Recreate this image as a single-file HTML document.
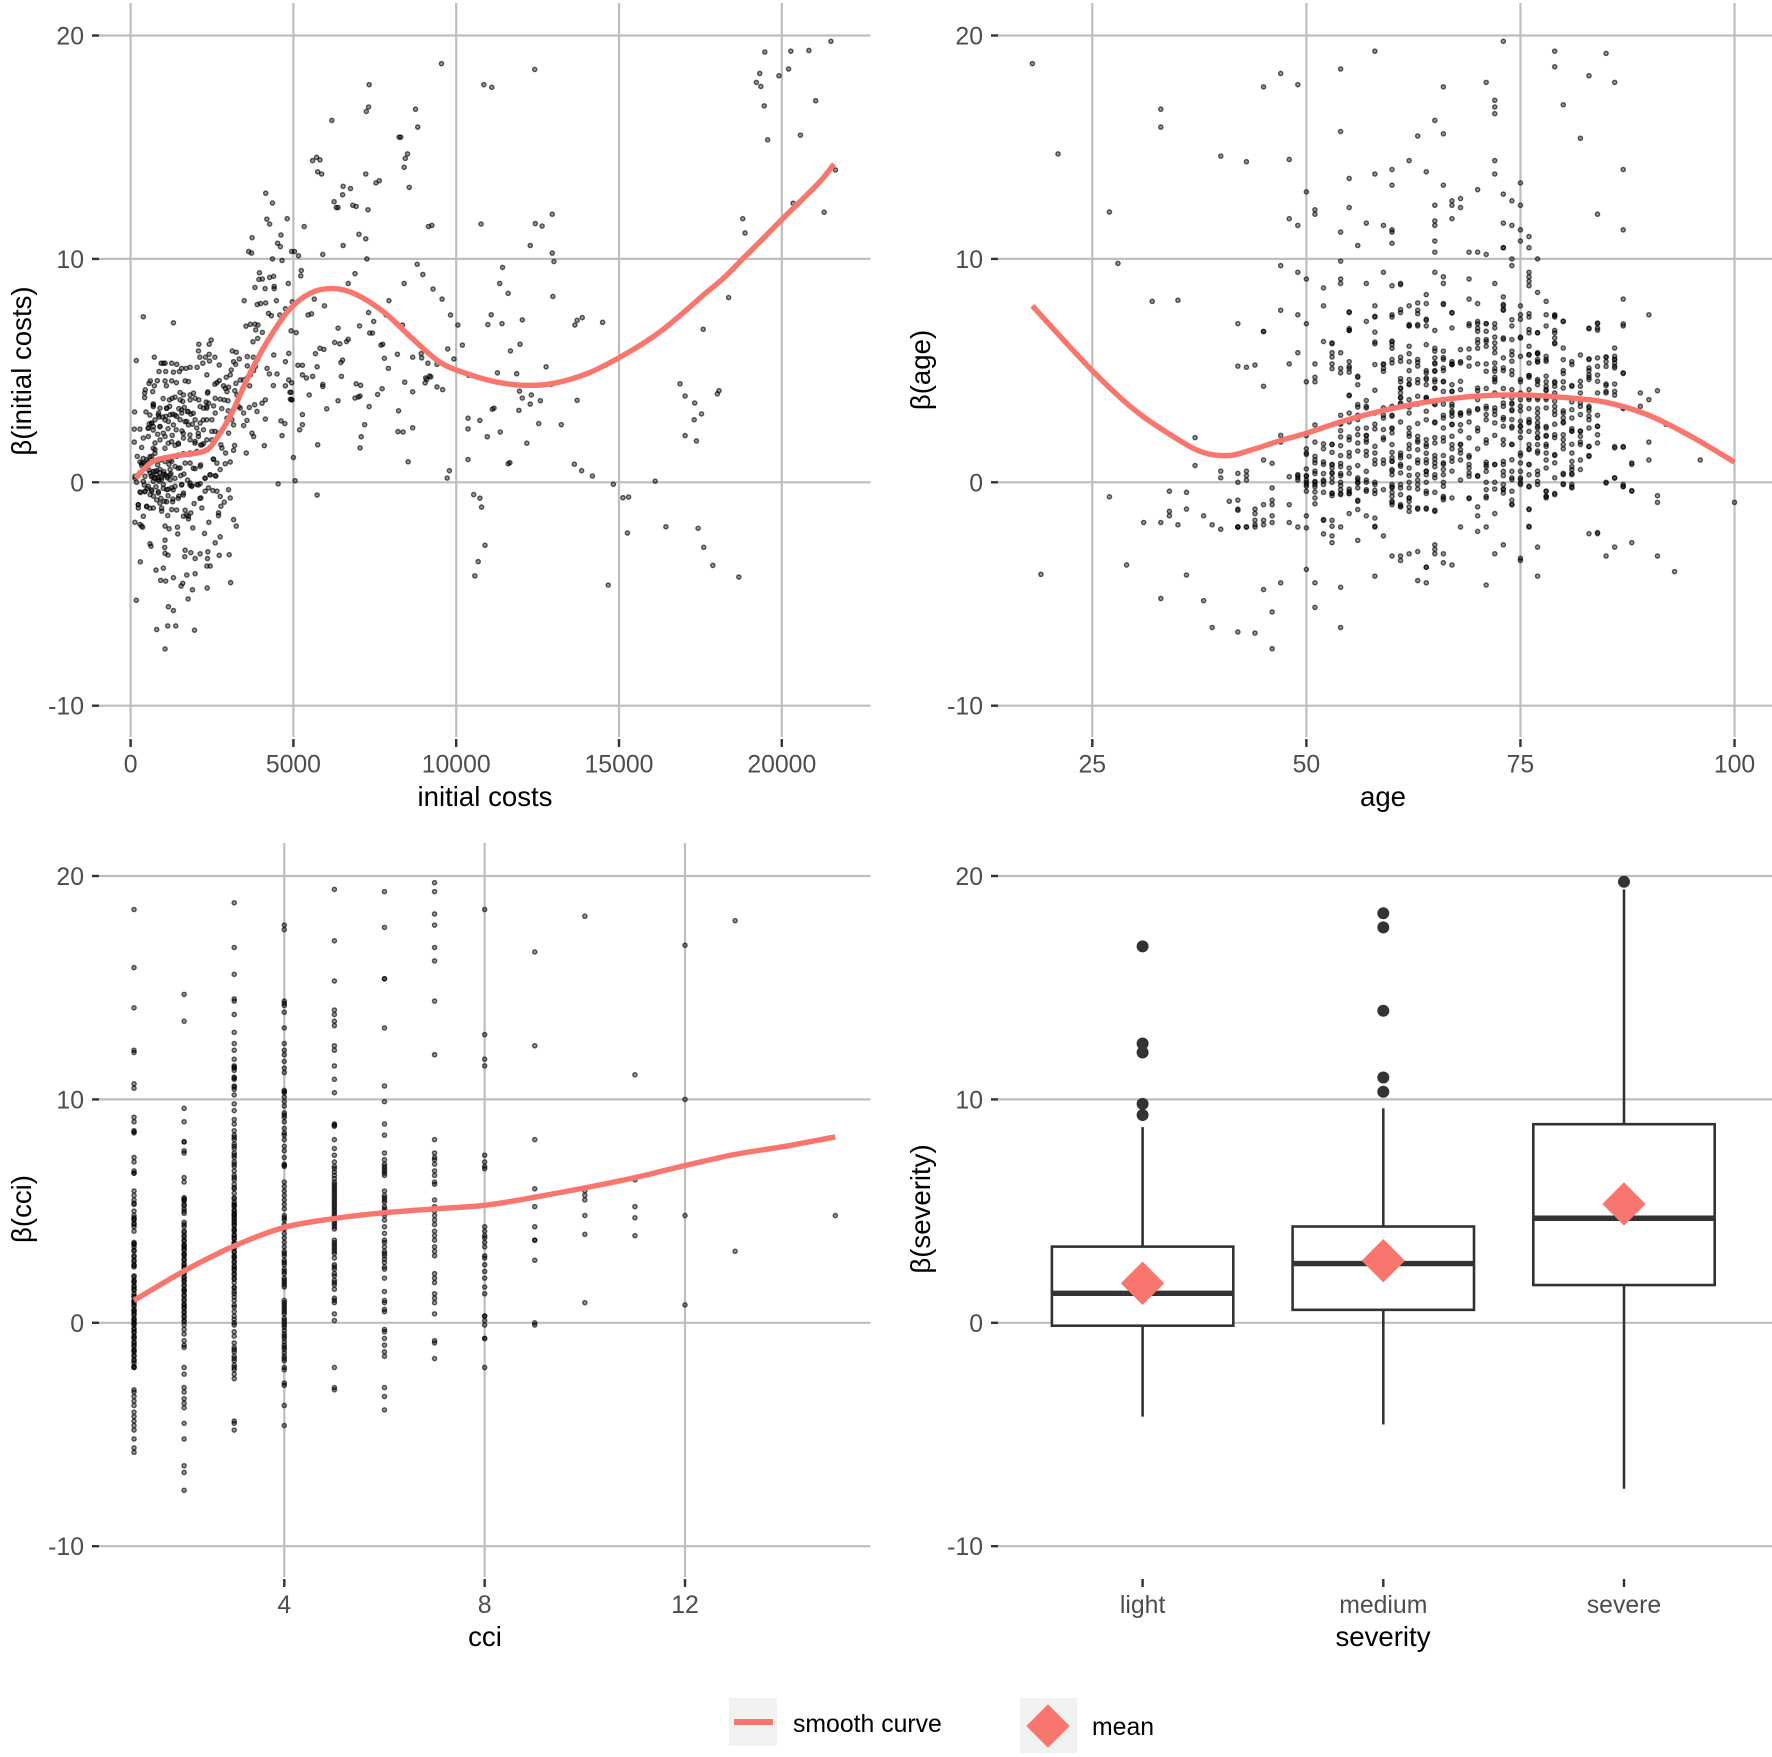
<!DOCTYPE html>
<html lang="en">
<head>
<meta charset="utf-8">
<title>Partial effects chart</title>
<style>
html,body{margin:0;padding:0;background:#fff;}
svg{display:block;font-family:"Liberation Sans",Arial,sans-serif;}
.tick-label{font-size:24.8px;fill:#4d4d4d;}
.axis-title{font-size:27.6px;fill:#000;}
.legend-text{font-size:24.8px;fill:#000;}
</style>
</head>
<body>
<svg id="figure" width="1772" height="1757" viewBox="0 0 1772 1757" xmlns="http://www.w3.org/2000/svg">
<rect width="1772" height="1757" fill="#fff"/>
<g id="panel-costs"></g>
<g id="panel-age"></g>
<g id="panel-cci"></g>
<g id="panel-severity"></g>
<text class="axis-title" x="485" y="806" text-anchor="middle">initial costs</text>
<text class="axis-title" x="1383" y="806" text-anchor="middle">age</text>
<text class="axis-title" x="485" y="1646" text-anchor="middle">cci</text>
<text class="axis-title" x="1383" y="1646" text-anchor="middle">severity</text>
<text class="axis-title" transform="translate(31,371) rotate(-90)" text-anchor="middle">β(initial costs)</text>
<text class="axis-title" transform="translate(930,370) rotate(-90)" text-anchor="middle">β(age)</text>
<text class="axis-title" transform="translate(31,1209) rotate(-90)" text-anchor="middle">β(cci)</text>
<text class="axis-title" transform="translate(930,1209) rotate(-90)" text-anchor="middle">β(severity)</text>
<g>
<rect x="729" y="1698" width="48" height="48" fill="#f2f2f2"/>
<rect x="734" y="1719" width="39" height="6" fill="#f8766d"/>
<text class="legend-text" x="793" y="1732">smooth curve</text>
<rect x="1020" y="1698" width="57" height="55" fill="#f2f2f2"/>
<polygon points="1048,1704.3 1069.7,1726 1048,1747.7 1026.3,1726" fill="#f8766d"/>
<text class="legend-text" x="1092" y="1735">mean</text>
</g>
</svg>
<script>
/* ---------- shared axis ticks ---------- */
const yTicks = [-10, 0, 10, 20];
const costTicks = [0, 5000, 10000, 15000, 20000];
const ageTicks = [25, 50, 75, 100];
const cciTicks = [4, 8, 12];
const severityCategories = ['light', 'medium', 'severe'];

/* ---------- initial costs panel: [initial costs, beta] ---------- */
const costPoints = [
[390,7.41],[1315,7.14],[175,5.45],[729,5.6],[1006,5.33],[935,5.33],[1058,5.33],[1263,5.33],[1417,5.28],[873,4.96],[1078,4.96],[1315,4.93],[1499,4.96],[1571,5.1],[1705,5.1],[1828,5.15],[2044,5.15],[2095,6.18],[2085,5.88],[2413,6.18],[2475,6.37],[2126,5.6],[2300,5.6],[2413,5.73],[2424,5.43],[2588,5.6],[2218,5.33],[2722,5.25],[3122,5.88],[3245,5.82],[3163,5.4],[3225,5.28],[3338,5.52],[3584,5.21],[3543,6.99],[3677,7.07],[3820,7.08],[3913,7.04],[3841,6.82],[4046,6.71],[3759,6.29],[3903,6.44],[3584,5.63],[3769,5.6],[3903,5.51],[3831,5.18],[3779,5],[3677,4.81],[3574,4.66],[3091,5.03],[2937,4.7],[3060,4.81],[2722,4.55],[2588,4.39],[2650,4.46],[2342,4.81],[1674,4.54],[1777,4.51],[606,4.54],[565,4.43],[822,4.55],[1058,4.54],[1263,4.54],[1407,4.46],[729,4.32],[1099,4.32],[452,4.14],[431,3.99],[431,3.79],[678,4.06],[1520,4.02],[1623,3.91],[1828,3.91],[1931,3.99],[2372,4.05],[2362,3.99],[2855,4.32],[3009,4.26],[2906,4.21],[2958,4.06],[3235,4.43],[3369,4.58],[3471,4.58],[3451,4.21],[3266,3.91],[3348,3.91],[3656,4.32],[4385,4.33],[4755,4.32],[4858,4.58],[4930,4.03],[4909,3.72],[4960,3.69],[4190,5.1],[4262,4.85],[4396,5.7],[4498,4.85],[4755,5.4],[4858,5.77],
[123,3.15],[472,3.15],[698,3.51],[698,3.39],[904,3.32],[1109,3.32],[1273,3.76],[1366,3.81],[1191,3.69],[1520,3.69],[1602,3.62],[1828,3.69],[1982,3.76],[2095,3.69],[2321,3.59],[2393,3.54],[2342,3.32],[2598,3.76],[2752,3.72],[2876,3.69],[2989,3.65],[2547,3.42],[2239,3.32],[2136,3.39],[1746,3.17],[1571,3.1],[1417,2.95],[1212,3.02],[986,2.92],[883,2.92],[750,2.8],[647,2.65],[575,2.62],[698,2.5],[544,2.43],[904,2.5],[1161,2.72],[1315,2.57],[1520,2.8],[1725,2.72],[1982,2.8],[2136,2.65],[2342,2.8],[2496,2.8],[1777,2.57],[2033,2.43],[2239,2.35],[2496,2.28],[2701,2.2],[2958,2.87],[3112,2.8],[3163,2.57],[3317,3.39],[3369,3.32],[3471,3.1],[3574,2.77],[3471,2.54],[3646,3.35],[3810,3.47],[3882,3.17],[4036,3.54],[4139,3.69],[4139,2.83],[3728,2.2],[3779,2.05],[4108,1.64],[3553,1.31],[3194,1.65],[3163,1.43],[2917,1.31],[3009,2.2],[2773,1.68],[2804,1.53],[2598,2.28],[2496,1.9],[2342,1.9],[2239,1.73],[2188,1.68],[2085,2.05],[1982,1.83],[1828,1.9],[1623,1.98],[1469,1.71],[1366,1.65],[1006,2.2],[1058,2.05],[904,1.9],[750,1.76],[544,2.05],[390,1.98],[288,2.38],[113,2.38],[113,1.8],[339,1.56],[205,1.16],[288,0.91],[390,0.86],[493,1.01],[647,1.16],[750,1.46],[904,1.01],[1109,1.09],[1263,0.94],[1417,1.16],[1623,1.28],[1828,1.31],[2033,1.38],[2362,1.46],[2547,1.04],[2650,0.86],[2906,0.83],[3060,0.91],[2752,0.57],[2598,0.3],[2444,0.34],[2290,0.19],[2136,0.71],[1982,0.61],[1828,0.86],[1674,0.86],[1520,0.64],[1366,0.71],[1212,0.57],[1058,0.34],[904,0.57],[750,0.49],[596,0.42],[442,0.27],[288,0.42],[134,0.27],
[185,0],[390,0.04],[544,-0.18],[698,0.04],[852,0.12],[1006,-0.1],[1212,0.12],[1366,-0.18],[1571,-0.1],[1828,-0.03],[2033,-0.1],[2136,-0.06],[2393,-0.25],[2526,-0.37],[2650,-0.4],[3009,-0.33],[288,-0.43],[442,-0.4],[647,-0.4],[852,-0.48],[1109,-0.33],[1263,-0.25],[1623,-0.48],[1879,-0.18],[2157,-0.7],[2290,-0.4],[2752,-0.63],[3060,-0.7],[2876,-0.89],[2773,-1.07],[2701,-1.37],[2701,-1.49],[2188,-1.15],[1951,-0.95],[1849,-1.37],[1777,-1.52],[1777,-1.64],[1623,-1.52],[1674,-1.25],[1263,-1.22],[1140,-1.49],[955,-1.29],[698,-1.15],[493,-1.07],[390,-1.52],[236,-1.15],[236,-1],[134,-1.79],[288,-1.89],[339,-1.96],[370,-2.01],[3163,-1.67],[3245,-1.96],[2752,-2.44],[2598,-2.71],[2403,-1.79],[2270,-2.29],[1910,-2.04],[1448,-2.31],[1438,-2.01],[1181,-2.08],[1058,-1.96],[596,-2.75],[626,-2.86],[1058,-2.59],[1048,-2.92],[1058,-3.18],[1150,-3.26],[1674,-3.04],[1664,-3.33],[1849,-3.15],[1982,-3.41],[2136,-3.2],[2372,-3.11],[2362,-3.41],[2342,-3.75],[2444,-3.75],[2722,-3.27],[3030,-3.24],[3071,-4.49],[2352,-4.73],[1900,-4.81],[1766,-5.22],[1982,-4.09],[1725,-4.15],[1602,-4.52],[1551,-4.64],[1315,-4.27],[1078,-4.42],[924,-4.39],[781,-3.93],[1006,-3.84],[298,-3.56],[175,-5.28],[1161,-5.57],[1315,-5.74],[801,-6.59],[1140,-6.43],[1386,-6.43],[1962,-6.62],[1058,-7.46],
[480,0.7],[560,0.55],[640,0.3],[720,0.2],[800,0.35],[870,0.05],[950,0.22],[1020,0.48],[1130,0.2],[1240,0.38],[420,-0.12],[510,-0.28],[600,-0.55],[700,-0.62],[780,-0.2],[930,-0.72],[1040,-0.85],[1150,-0.6],[1300,-0.75],[1480,-0.62],[340,0.75],[620,0.88],[830,0.78],[1180,0.8],[1540,0.3],[1750,0.1],[1200,3.4],[1290,3.05],[1480,3.3],[1650,3.35],[1080,2.95],[1400,2.35],[1580,2.3],[1850,3.05],[1900,2.6],[1280,2.1],[1150,2.4],[830,2.15],[860,3.1],[1000,3.75],[2600,3.1],[2800,3.3],[3000,3.2],[3200,4.1],
[133,0.18],[236,0.33],[338,0.85],[440,0.78],[543,0.93],[389,1.07],[594,1.15],[748,1.3],[696,1.52],[901,1],[1055,0.93],[1208,1],[696,0.48],[799,0.52],[901,0.43],[1004,0.37],[1106,0.28],[850,0.22],[748,0.18],[645,0.25],[952,0.13],[1208,0.33],[1362,0.18],[1464,0.63],[1638,0.37],[1925,0.63],[2150,0.78],[2540,1.03],[2621,0.28],[2284,0.18],[2437,0.33],[307,-0.46],[440,-0.42],[645,-0.34],[850,-0.42],[1004,-0.27],[1157,-0.31],[1311,-0.34],[1567,-0.12],[1874,-0.16],[2079,-0.12],[799,-0.79],[1106,-0.87],[1290,-0.87],[1464,-0.72],[1618,-0.57],[901,-0.94],[594,-1.16],[492,-1.09],[952,-1.16],[236,-1.01],[1413,-1.24],[1720,-1.46],[2130,-0.72],[1823,-0.12],[543,2.42],[696,2.34],[901,2.49],[645,2.64],[1055,2.79],[1464,1.75],[1260,1.82],[1823,2.12],[1669,2.72],[2079,2.19],[2232,2.79],[1925,3.09],[1362,3.01],[1567,3.24],[850,3.01],[594,3.01],[1106,3.31],[696,3.46],[1772,3.16],[2335,3.39],[1976,1.75],[2150,1.67],[1055,1.52],[1464,1.22],[1157,1.75],[1618,2.19],
[4150,12.94],[4357,12.5],[4184,11.78],[4270,11.56],[3732,10.95],[3628,10.33],[3715,10.26],[4357,10],[3958,9.38],[4045,9.1],[3941,9.08],[4270,9.17],[4392,9.22],[3819,8.72],[4132,8.67],[4410,8.77],[4410,8.67],[3489,8.13],[3889,7.96],[3993,8],[4149,8.03],[4479,8.13],[4236,7.56],[4323,7.46],[4583,7.49],[4757,7.77],[4965,8.08],
[9548,18.74],[6180,16.2],[7326,17.8],[7309,16.8],[7240,16.6],[8246,15.45],[8298,15.45],[8750,16.7],[8819,15.9],[8506,14.7],[8437,14.5],[8402,14.1],[8558,13.2],[5590,14.4],[5712,14.55],[5816,14.43],[5746,13.9],[5868,13.8],[7222,13.8],[7534,13.4],[7638,13.5],[6527,13.25],[6753,13.15],[6510,12.87],[6250,12.56],[6319,12.3],[6371,12.3],[6823,12.4],[6927,12.35],[7291,12.2],[9149,11.45],[9253,11.5],[7013,11.1],[7222,10.9],[6527,10.6],[5902,10.2],[7257,10],[5330,11.45],[4809,11.8],[4618,11.07],[4514,10.7],[4600,10.55],[4948,10.33],[5034,10.33],[5156,10.14],[4652,9.93],[5243,9.48],[5226,9.24],[8802,9.76],[8975,9.3],[6892,9.34],[6684,8.9],[8402,8.9],[4843,8.9],[9288,8.65],[9566,8.2],[7934,8.13],[7847,7.49],[9826,7.49],[5954,7.9],[5642,8.2],[7309,7.6],[5451,7.49],[5555,7.54],[7465,7.2],[8350,7.04],[10051,7.04],[10190,6.14],[9739,5.97],[7343,6.68],[7430,6.68],[7031,7],[6371,6.9],[6267,6.26],[6423,6.2],[6684,6.4],[6632,6.3],[5816,6],[5937,5.95],[5677,5.76],[7690,6.14],[7795,5.55],[8194,5.73],[8663,5.6],[7916,5.1],[8923,5.76],[8940,5.57],[9131,5.33],[9409,5.28],[9930,5.52],[9183,4.76],[9097,4.6],[9045,4.45],[9409,4.27],[9583,4.15],[10382,4.79],[11267,4.9],[11857,4.86],[12760,5.17],[11666,5.88],[11961,6.18],[12030,7.27],[10972,7.06],[11076,7.5],[11406,7.1],[11597,8.46],[11336,8.9],[11423,9.62],[10763,11.56],[12274,10.6],[12430,11.58],[12638,11.47],[12950,12],[12950,10.26],[13002,9.88],[12968,8.32],[10850,17.8],[11093,17.68],[12412,18.48],[13645,7.04],[13714,7.25],[13871,7.37],[14496,7.16],[18367,8.27],[18800,11.8],[18870,11.16],[17586,6.85],[20346,12.49],[21301,12.09],[21648,13.98],[19218,17.9],[19322,18.3],[19357,17.72],[19478,19.26],[19461,16.85],[19565,15.33],[19912,18.2],[20207,18.5],[20277,19.3],[20832,19.33],[21509,19.74],[20572,15.54],[21041,17.08],[16874,4.41],[17030,3.86],[17325,3.55],[17308,2.8],[17534,3.06],[17030,2.09],[17378,1.85],[18071,4.1],[18020,3.96],[13714,3.67],[13228,2.58],[12534,2.63],[12916,4.38],[12586,3.65],[12308,3.91],[12274,3.5],[12030,3.77],[11944,4.08],[11927,3.22],[12169,1.75],[11353,2.25],[10954,2.04],[10364,2.39],[10364,2.87],[10728,2.77],[11110,3.27],[11162,3.32],[10364,1.02],[11597,0.83],[11649,0.88],[13628,0.81],[13853,0.52],[14183,0.28],[9791,0.52],[9722,0.19],[14826,-0.09],[16110,0.05],[15121,-0.69],[15294,-0.66],[15260,-2.27],[16440,-1.99],[17429,-2.06],[17603,-2.91],[17881,-3.72],[18680,-4.24],[14669,-4.6],[10538,-0.55],[10728,-0.71],[10781,-1.11],[10885,-2.82],[10676,-3.55],[10572,-4.19],
[8229,3.2],[8211,2.27],[8367,2.25],[8663,2.44],[8524,0.92],[7083,2.04],[7048,1.54],[7187,2.58],[7326,3.39],[6927,4.41],[7066,4.34],[6996,3.82],[6892,3.77],[7048,3.86],[7586,3.93],[7725,4.19],[6371,3.65],[6024,3.29],[5746,1.68],[5000,1.11],[5052,0.07],[5729,-0.57],[4531,-0.07],[5902,4.29],[5902,4.38],[5486,3.91],[5277,3.03],[5277,2.58],[5191,2.35],[4652,2.09],[4739,2.63],[4618,2.75],[4895,4.03],[4930,3.7],[4948,4.45],[5277,4.81],[5399,4.67],[5590,4.74],[5139,5.24],[5277,5.24],[5729,5.17],[5086,6.7],[4930,6.78],[6510,5.47],[6458,5.36],[6475,4.74],[7743,6.18],[8419,4.48],[8663,4.05],[9062,4.67],[9218,4.72]
];
const costCurveX = [156,677,1371,2274,2673,3107,3628,4149,4843,5538,6232,6927,7795,8663,9531,10399,11267,12135,13002,14044,15031,16054,16772,17590,18204,18818,19432,19985,20559,21173,21603];
const costCurveY = [0.19,0.92,1.18,1.4,2.04,3.1,4.76,6.18,7.68,8.48,8.67,8.41,7.6,6.42,5.35,4.83,4.48,4.34,4.43,4.88,5.6,6.52,7.34,8.38,9.13,10.03,10.92,11.74,12.56,13.46,14.25];

/* ---------- age panel: [age, betas at that age] ---------- */
const ageColumns = [
[18,[18.74]],[19,[-4.12]],[21,[14.7]],[27,[12.1,-0.65]],[28,[9.8]],[29,[-3.7]],[31,[-1.8]],[32,[8.1]],[33,[16.7,15.9,-1.8,-5.2]],[34,[-0.4,-1.3,-1.5]],[35,[8.15,-1.9]],[36,[-0.45,-1.2,-4.15]],[37,[2,0.75]],[38,[-1.5,-5.3]],[39,[-1.9,-6.5]],[40,[14.6,0.5,0.2,-2.1]],[41,[-0.85]],
[42,[7.1,5.2,0.4,0,-0.8,-1.2,-1.25,-2,-2,-2,-6.7]],[43,[14.35,5.15,0.3,0.5,0.1,-2,-2]],[44,[5.25,-1.2,-1.4,-1.7,-1.9,-2,-6.75]],[45,[17.7,6.75,6.75,4.3,1,-1,-1.7,-1.9,-4.8]],[46,[0.85,-0.25,-0.8,-1,-1.5,-1.8,-5.8,-7.45]],[47,[18.3,9.7,7.7,2.1,1.8,-4.5]],[48,[14.45,11.8,5.3,0.25,-1,-1.8]],[49,[17.8,11.5,9.4,7.5,5.8,-2,0.34,0.2,0.3,0.1]],
[50,[13,9.1,7.1,4.5,1.5,0.6,0.3,0.1,-0.1,-0.4,-1.5,-3.9,2.09,1.31,1.25,0.27,0,-0.18,-2.04]],[51,[12.2,12,5.3,4.7,4.5,1.8,1,0.5,0,-0.2,-0.7,-4.5,-5.6,2.57,1.16,0.87,0.39,0.04,-0.1,-0.43,-0.96]],[52,[8.7,7.9,6.3,1.5,0.8,0.1,-0.1,-1.7,1.72,0.91,0.39,0.04,-0.45,-1.67,-2.31]],[53,[6.2,5.8,5.3,1.7,0.8,0.4,0,-0.5,-0.6,-1.7,-2.4,-2.7,6.24,5.61,5.09,1.69,1.34,0.79,0.64,0.42,0.19,-0.48,-1.97]],[54,[18.5,15.7,11.2,9.9,9.1,8.9,5.8,5.1,4.9,3,2.6,1.2,0.7,0.3,0,-0.5,-2,-4.7,-6.5,2.66,2.31,2.03,1.64,0.84,0.39,-0.15,-0.33,-0.55]],[55,[13.6,12.3,7.6,6.8,6.8,5.4,5.1,3.9,3.1,2.7,1.9,0.4,-0.3,-0.5,-1.4,7.63,6.88,5.19,4.93,3.88,2.03,1.34,1.16,0.64,-0.4,-0.51]],[56,[10.6,4.7,3,2.4,1.4,0.2,0,-0.8,-2.6,4.75,4.37,3.48,3.37,2.81,2.13,1.76,0.75,0.12,-0.03,-0.25,-0.85,-1.22]],[57,[11.6,8.9,7.2,3.4,2.1,1.8,1.2,0.1,-0.4,-1.5,3.66,3.33,2.43,2.09,1.91,1.39,0.49,0,-0.33]],[58,[19.3,13.8,7.9,7.4,6.2,3.1,2.6,1,0,-0.5,-2,-4.2,7.43,6.72,6.28,5.27,4.12,2.39,1.61,1.31,0.82,-0.1,-0.36,-1.6,-1.97]],[59,[11.5,9.4,5.3,5.1,3.2,3,2,1,-2.4,5.27,4.97,3.33,2.88,2.36,1.91,0.84,-0.33]],
[60,[14,13.3,11.3,11.2,10.7,8.8,7.4,6.3,6,5.5,3.3,3,2.4,1.1,0.5,-0.2,-0.9,-1,-3.3,7.5,6.31,6.16,5.34,3.4,2.96,2.43,2.21,1.69,1.34,0.94,0.94,0.57,0.34,-0.1,-0.25,-0.45,-0.63,-0.85]],[61,[8.85,8.9,7.6,5.6,4.5,4.2,3.8,3.5,2.7,1.2,0.8,-1,-1.1,-3.3,-3.5,7.73,5.42,4.64,4.22,4,3.78,3.55,1.31,1.09,0.72,0.42,-0.1,-0.25,-0.55,-1.07]],[62,[14.4,7.9,7,7,5.4,5,4.4,3.1,2.2,1.5,0,-0.7,-1.1,-3.2,-1.3,7.06,6.09,5.76,4.6,4.37,3.7,3.37,2.43,2.06,1.69,1.16,0.64,0.31,-0.25,-0.7,-0.85]],[63,[15.5,7.7,7,5.5,5.2,4.6,3.5,1.8,1,0.1,-0.3,-1.2,-3.1,-4.4,8.03,7.55,7.06,5.37,4.45,3.85,2.63,2.06,1.88,1.46,0.87,0.34,-0.1,-1.15]],[64,[13.9,8.4,8,7,7.3,5,4.6,3.8,3.7,2.8,1.7,1.3,0.5,0,-0.5,-1.2,-3.8,-3.8,-4.5,7.25,6.16,4.9,4.67,4.37,3.78,3.18,1.91,1.6,1.01,0.87,0.49,0.34,-0.4,-1.15]],[65,[16.2,12.4,11.7,11.5,10.8,10.3,9.4,6.8,6,5.3,5,4.5,4.2,3.5,2.7,2,1.2,0.7,0.2,-1.3,-2.8,-3,-3.2,5.87,5.57,5.34,4.97,4.6,4.22,3.48,2.66,1.76,1.04,0.87,0.34,-0.45,-1.25]],[66,[17.7,15.6,13.3,9.2,8.9,8,5.5,5,4.5,3.5,3,2,1.2,0.8,0,-0.7,-3.2,-3.6,7.96,5.87,5.58,5.12,4.52,4.07,2.88,2.43,1.84,0.87,0.57,0.34,-0.18,-0.63,-0.78]],[67,[12.6,12.4,11.8,7.6,5.4,5.3,3.5,3.1,2.6,1.5,1.1,0.5,-0.7,-3.7,7.58,6.91,5.27,5.27,4.37,4.07,4.07,3.4,3.18,2.96,2.58,2.06,1.69,0.94]],[68,[12.7,12.3,5.4,3.1,3,2.3,1.7,1,0.1,-2,5.94,5.34,4.52,4.15,3.1,2.58,1.69,1.46,1.31]],[69,[10.3,9.1,8.2,7.1,5.2,3.2,2.7,1.2,0.8,-0.7,7.01,5.97,5.57,3.1,1.99,1.12,0.64,0.42,0.27,-0.73]],
[70,[13.1,10.3,8,7.2,6.9,6,5.3,4.1,3.3,2.3,1.5,0.3,-1.1,-1.5,-2.2,7.1,6.76,6.39,6.24,4.22,3.7,3.25,2.43,0.27]],[71,[17.9,10.2,7.1,6.3,5.3,4.2,3.3,2.8,1.9,0.9,0.7,0,-0.7,-2,-4.6,7.1,6.76,6.39,6.09,4.97,3.4,3.03,1.76,0.79,0.49,-0.33,-0.63]],[72,[17.1,16.8,16.5,14.4,13.8,8.9,7.1,6.5,5.8,5.1,4.7,4.5,4,3.2,2.1,0.8,0,-0.3,-1.4,-3.2,6.91,6.24,6.01,5.34,4.97,4.6,3.33,3.03,2.66,0.79]],[73,[19.74,12.9,11.6,10.5,10.5,8.3,7.9,7.7,6.4,5,4.2,3.9,3.4,2.9,1.9,0.8,0.3,-0.3,-2.8,7.96,7.73,6.46,5.57,5.12,3.85,3.55,2.81,2.51,1.69,0.94,0.49,-0.1,-0.33,-0.48]],[74,[12.6,11.5,10,9.7,7,5.7,5,3.5,3.2,2.5,1.7,0.2,-0.8,-1,7.28,6.39,5.87,5.42,4.82,4.15,3.78,3.55,3.25,2.81,2.43,1.69,1.01,0.49,0.12,-0.4,-1]],[75,[13.4,12.4,11.3,10.8,7.9,7.3,6.5,4.5,4,3.2,2.5,2,1.2,0.2,-0.1,-3.5,-3.4,7.5,6.46,5.64,4.6,3.7,3.4,2.73,2.51,2.28,1.31,0.87,0.49,0.12,-0.03]],[76,[11,10.5,9.4,9.2,9,8.8,7.4,5.7,4.7,3.7,3.3,2.7,1.5,0.8,-0.2,-1.2,-2,7.55,6.84,6.69,6.09,5.72,5.34,4.78,4.78,4.15,3.78,2.81,2.66,2.28,1.69,1.46,0.79,0.34,-0.18,-1.22,-1.97]],[77,[10,8.5,6.7,5.8,5.5,4.6,3.7,3.3,2.5,2,1.4,0.5,-0.1,-2.9,-4.2,6.69,5.76,5.76,5.39,5.39,4.52,4.37,3.78,3.1,2.88,2.66,2.43,2.21,1.99,1.69,1.31,0.34,0.04]],[78,[8.1,7,5.5,4.5,4.1,3.7,2.5,2.1,1.7,1,-0.4,-0.7,7.5,5.64,5.42,4.75,4.3,4.15,3.78,3.33,2.43,2.06,1.61,1.31,0.64,-0.4,-0.63,-0.63]],[79,[19.3,18.6,7.5,7.4,6.8,6.2,4.5,4,3.2,2.6,2,1.2,0.2,-0.5,7.46,6.69,6.46,6.24,4.45,4.3,3.85,3.63,3.4,3.03,2.13,1.24,0.87,-0.55]],
[80,[16.9,7.2,5,4.5,3.2,2.7,1.5,0.4,-0.1,7.21,6.01,5.49,4.87,4.22,3.1,2.88,2.66,2.13,1.91,1.69,0.34,-0.07]],[81,[5.4,4.3,3.6,2.4,2.3,1.7,0.7,0.4,-0.2,5.27,4.33,3.25,2.88,2.28,1.31,0.94,0.57,0.34,-0.1,-0.25]],[82,[15.4,5.7,4.3,3.4,2.3,1.8,1,4.52,4,3.55,3.03,2.28,2.06,1.69,0.57]],[83,[18.2,6.9,5.5,5,4.7,3.7,3.2,2.8,3.4,1.6,1.2,-2.3,6.87,5.52,5.12,4.82,4.6,3.7,3.33,2.96,2.43,1.61,1.16]],[84,[12,7.1,6.9,4.8,3,2.5,-2.3,7.13,6.81,5.57,5.19,4.52,4,2.51,2.13,1.76,-2.25]],[85,[19.2,5.6,5.4,4.4,4,0,-3.3,5.61,5.19,4.33,4.07,-0.03]],[86,[17.9,5.5,5.5,5.2,4.4,3.9,1.6,0.2,-2.9,6.01,5.64,5.34,5.12,4.07,1.54,0.19]],[87,[14,11.3,8.2,7,4.9,3.3,1.6,-0.1,-0.2,7.09,4.87,3.33,1.57,-0.18]],[88,[0.8,-0.4,-2.7,0.87,-0.37]],[89,[4,3.4]],[90,[7.5,3.7,3,1.8,1]],[91,[4.1,-0.6,-0.9,-3.3]],[92,[2.6]],[93,[-4]],[96,[1]],[100,[-0.9]]
];
const ageCurveX = [18,25,30,35,38,41,44,47,50,55,60,65,70,75,80,85,90,95,100];
const ageCurveY = [7.9,5,3.22,1.92,1.33,1.2,1.5,1.87,2.2,2.82,3.3,3.65,3.86,3.91,3.8,3.58,3,2.04,0.9];

/* ---------- cci panel: [cci, betas at that score] ---------- */
const cciColumns = [
[1,[18.5,15.9,14.1,12.2,12.1,10.7,10.5,9.2,9,8.6,8.5,7.4,7.2,6.8,6.7,5.9,5.7,5.5,5.3,5,4.8,4.7,4.6,4.4,4.3,4.1,3.6,3.5,3.4,3.2,3,2.8,2.6,2.5,2.1,1.9,1.8,1.6,1.5,1.3,1.2,1,0.9,0.8,0.6,0.5,0.4,0.2,0.1,0,-0.1,-0.3,-0.4,-0.6,-0.7,-0.9,-1,-1.2,-1.3,-1.5,-1.7,-1.8,-2,-2,-3,-3.1,-3.3,-3.5,-3.7,-4,-4.2,-4.4,-4.6,-4.8,-5.2,-5.6,-5.8,8.55,6.7,5.35,4.65,4.45,3.55,3.25,2.95,2.75,2.55,2.05,1.85,1.65,1.45,1.15,0.95,0.75,0.55,0.35,0.15,-0.05,-0.25,-0.45,-0.65,-0.85,-1.05,-1.25,-1.45,-1.65,-1.95]],
[2,[14.7,13.5,9.6,9,8.1,8.1,7.7,7.6,6.5,6.3,5.6,5.5,5.3,5.1,5,4.9,4.5,4.4,4.3,4.1,3.9,3.7,3.5,3.4,3.3,3.1,3,2.8,2.6,2.5,2.3,2.2,2,1.9,1.7,1.5,1.4,1.2,1,0.8,0.7,0.5,0.3,0.1,-0.1,-0.3,-0.5,-0.8,-1,-1.1,-2,-2.3,-2.9,-3.1,-3.4,-3.6,-3.8,-4.5,-5.2,-6.4,-6.7,-7.5,5.55,5.45,5.25,4.05,3.85,3.65,3.45,3.25,3.05,2.85,2.65,2.45,2.25,2.05,1.85,1.65,1.45,1.25,1.05,0.85,0.65,0.45,0.25,0.05]],
[3,[18.8,16.8,15.6,14.5,14.4,13.8,13,12.5,12.2,11.8,11.5,11.4,11.3,11,10.9,10.6,10.2,9.8,9.5,9.1,8.9,8.6,8.4,8.2,8,7.8,7.6,7.4,7.2,7,6.8,6.6,6.4,6.2,6,5.8,5.6,5.4,5.3,5.2,5,4.9,4.8,4.7,4.5,4.4,4.2,4.1,3.9,3.8,3.6,3.5,3.4,3.2,3,2.9,2.7,2.5,2.4,2.2,2,1.8,1.6,1.4,1.3,1,0.8,0.5,0.3,0,-0.1,-0.4,-0.6,-0.9,-1.1,-1.3,-1.5,-1.7,-1.9,-2.1,-2.3,-2.5,-4.4,-4.5,-4.8,11.45,10.95,10.55,10.45,8.3,7.9,7.5,7.1,6.5,6.05,5.55,5.25,5.05,4.85,4.65,4.55,4.35,4.15,3.95,3.75,3.55,3.35,3.15,2.95,2.75,2.55,2.35,2.15,1.95,1.55,1.15,0.7,0.15,-1.2,-1.6,-2]],
[4,[17.8,17.6,14.4,14.2,13.9,13.2,12.5,12.2,12,11.7,11.4,11.2,10.4,10.3,10.1,9.9,9.7,9.4,9.2,9,8.7,8.4,8.2,7.9,7.7,7.4,7.1,7,6.3,6.1,5.9,5.7,5.5,5.3,5.1,4.8,4.6,4.4,4.2,4,3.8,3.6,3.4,3.2,3,2.8,2.6,2.4,2.2,2,1.8,1.6,1,0.9,0.7,0.5,0.2,0,-0.2,-0.5,-0.7,-1,-1.2,-1.5,-1.7,-2.1,-2.7,-2.8,-3.7,-4.6,14.3,10.35,9.3,8.5,7.05,4.7,3.1,2.7,2.3,1.9,1.7,0.8,0.6,0.4,0.1,-0.1,-0.35,-0.6,-0.85,-1.1,-1.35,-1.6,-2]],
[5,[19.4,17.1,15.3,14,13.8,13.5,13.3,12.4,12.2,11.5,10.9,10.3,8.9,8.8,8.2,7.8,7.5,7.2,7,6.9,6.6,6.3,6.2,6,5.8,5.6,5.4,5.2,5,4.8,4.6,4.4,4.2,3.7,3.5,3.3,3.1,2.9,2.6,2.4,2.2,1.9,1.7,1.5,1,0.9,0.4,0.1,-2,-2.9,-3,8.85,6.75,6.45,6.1,5.9,5.7,5.5,5.3,5.1,4.9,4.7,4.5,4.3,3.6,3.4,3.2,2.5,2.1,1.8,1.1]],
[6,[19.3,17.7,15.4,15.4,13.2,10.6,9.9,8.9,8.4,7.6,7.3,7.1,7,6.8,6.6,5.9,5.7,5.5,5.4,5.2,5,4.9,4.6,4.3,4,3.7,3.4,3.2,3,2.7,2.5,2,1.4,1,0.9,0.6,0.5,-0.3,-0.4,-0.7,-1,-1.3,-1.5,-2.9,-3.3,-3.9,6.9,6.7,5.6,5.1,4.8,3.6,3.1,2.85,2.4]],
[7,[19.7,19.3,18.3,17.8,16.8,16.2,14.4,12,8.2,7.6,7.4,7.3,7.1,6.8,6.6,6.3,6.2,5.5,5.2,5,4.8,4.6,4.4,4.1,3.9,3.7,3.4,3.2,3,2.2,2,1.8,1.3,1.1,0.9,0.4,-0.8,-0.9,-1.6]],
[8,[18.5,12.9,11.8,11.5,7.5,7.2,7,6.9,4.3,4.1,3.9,3.8,3.6,3.4,3,2.9,2.6,2.3,2,1.6,1.3,0.3,0.3,0.1,-0.1,-0.7,-0.7,-2]],
[9,[16.6,12.4,8.2,6,5.2,4.3,3.7,3.7,2.8,0,-0.1]],
[10,[18.2,5.9,5.7,5.5,4.8,3.96,0.9]],
[11,[11.1,6.4,5.2,4.7,3.9]],
[12,[16.9,10,4.8,0.8]],
[13,[18,3.2]],
[15,[4.8]]
];
const cciCurveX = [1,2,3,4,5,6,7,8,9,10,11,12,13,14,15];
const cciCurveY = [1,2.32,3.44,4.27,4.67,4.93,5.1,5.26,5.62,6.04,6.5,7.04,7.54,7.9,8.32];

/* ---------- severity panel (one entry per category) ---------- */
const boxQ1 = [-0.13, 0.58, 1.69];
const boxMedian = [1.32, 2.65, 4.68];
const boxQ3 = [3.41, 4.31, 8.89];
const boxWhiskerLow = [-4.2, -4.55, -7.43];
const boxWhiskerHigh = [8.76, 9.6, 19.4];
const boxMean = [1.77, 2.78, 5.32];
const boxOutliers = [
  [16.85, 12.5, 12.1, 9.8, 9.3],
  [18.33, 17.7, 13.97, 10.98, 10.34],
  [19.74]
];

/* ---------- scales ---------- */
const yTop = v => 482.3 - 22.34 * v;
const yBottom = v => 1322.8 - 22.34 * v;
const xCost = v => 130.6 + v * 0.03256;
const xAge = v => 1092.3 + (v - 25) * 8.563;
const xCci = v => 284.3 + (v - 4) * 50.09;
const xSeverity = i => 1142.6 + i * 240.7;

const NS = 'http://www.w3.org/2000/svg';
function make(tag, parent, props) {
  const el = document.createElementNS(NS, tag);
  for (const k in props) el.setAttribute(k, props[k]);
  parent.appendChild(el);
  return el;
}

function drawFrame(root, left, right, top, bottom, labelRight, yFn, xFn, xValues, xLabels, labelBase, showVertical) {
  yTicks.forEach(v => {
    const grid = make('line', root, {x1: left, x2: right, y1: yFn(v), y2: yFn(v), stroke: '#bebebe', 'stroke-width': 2.2});
    
    
    const tick = make('line', root, {x1: left - 7, x2: left, y1: yFn(v), y2: yFn(v), stroke: '#333', 'stroke-width': 2.4});
    
    
    const label = make('text', root, {x: labelRight, y: yFn(v) + 9, 'text-anchor': 'end', class: 'tick-label'});
    label.textContent = String(v);
    
    
  });
  xValues.forEach((v, i) => {
    const x = xFn(v);
    if (showVertical) {
      const grid = make('line', root, {x1: x, x2: x, y1: top, y2: bottom, stroke: '#bebebe', 'stroke-width': 2.2});
      
      
    }
    const tick = make('line', root, {x1: x, x2: x, y1: bottom + 2, y2: bottom + 10, stroke: '#333', 'stroke-width': 2.4});
    
    
    const label = make('text', root, {x: x, y: labelBase, 'text-anchor': 'middle', class: 'tick-label'});
    label.textContent = String(xLabels[i]);
    
    
  });
}

function drawPoint(parent, cx, cy) {
  const dot = make('circle', parent, {cx: cx, cy: cy, r: 2.1, fill: '#000', 'fill-opacity': 0.4, stroke: '#000', 'stroke-opacity': 0.62, 'stroke-width': 1.4});
  
  
}

function drawCurve(parent, xs, ys, xFn, yFn) {
  const px = xs.map(xFn);
  const py = ys.map(yFn);
  let d = 'M' + px[0].toFixed(1) + ' ' + py[0].toFixed(1);
  for (let i = 0; i < px.length - 1; i++) {
    const i0 = Math.max(i - 1, 0);
    const i3 = Math.min(i + 2, px.length - 1);
    const c1x = px[i] + (px[i + 1] - px[i0]) / 6;
    const c1y = py[i] + (py[i + 1] - py[i0]) / 6;
    const c2x = px[i + 1] - (px[i3] - px[i]) / 6;
    const c2y = py[i + 1] - (py[i3] - py[i]) / 6;
    d += 'C' + c1x.toFixed(1) + ' ' + c1y.toFixed(1) + ' ' + c2x.toFixed(1) + ' ' + c2y.toFixed(1) + ' ' + px[i + 1].toFixed(1) + ' ' + py[i + 1].toFixed(1);
  }
  const curve = make('path', parent, {d: d, fill: 'none', stroke: '#f8766d', 'stroke-width': 5.4});
  
  
}

/* panel: initial costs */
const costRoot = document.getElementById('panel-costs');
drawFrame(costRoot, 99, 870.5, 3, 737, 84, yTop, xCost, costTicks, costTicks, 772.5, true);
costPoints.forEach(p => drawPoint(costRoot, xCost(p[0]), yTop(p[1])));
drawCurve(costRoot, costCurveX, costCurveY, xCost, yTop);

/* panel: age */
const ageRoot = document.getElementById('panel-age');
drawFrame(ageRoot, 998, 1772, 3, 737, 983, yTop, xAge, ageTicks, ageTicks, 772.5, true);
ageColumns.forEach(col => col[1].forEach(b => drawPoint(ageRoot, xAge(col[0]), yTop(b))));
drawCurve(ageRoot, ageCurveX, ageCurveY, xAge, yTop);

/* panel: cci */
const cciRoot = document.getElementById('panel-cci');
drawFrame(cciRoot, 99, 870.5, 843, 1577, 84, yBottom, xCci, cciTicks, cciTicks, 1613, true);
cciColumns.forEach(col => col[1].forEach(b => drawPoint(cciRoot, xCci(col[0]), yBottom(b))));
drawCurve(cciRoot, cciCurveX, cciCurveY, xCci, yBottom);

/* panel: severity */
const sevRoot = document.getElementById('panel-severity');
drawFrame(sevRoot, 998, 1772, 843, 1577, 983, yBottom, xSeverity, [0, 1, 2], severityCategories, 1613, false);
severityCategories.forEach((name, i) => {
  const cx = xSeverity(i);
  const halfWidth = 90.7;
  const whisker = make('line', sevRoot, {x1: cx, x2: cx, y1: yBottom(boxWhiskerLow[i]), y2: yBottom(boxWhiskerHigh[i]), stroke: '#333', 'stroke-width': 2.6});
  
  
  const box = make('rect', sevRoot, {x: cx - halfWidth, y: yBottom(boxQ3[i]), width: halfWidth * 2, height: yBottom(boxQ1[i]) - yBottom(boxQ3[i]), fill: '#fff', stroke: '#333', 'stroke-width': 2.6});
  
  
  const median = make('line', sevRoot, {x1: cx - halfWidth, x2: cx + halfWidth, y1: yBottom(boxMedian[i]), y2: yBottom(boxMedian[i]), stroke: '#333', 'stroke-width': 5.4});
  
  
  boxOutliers[i].forEach(v => {
    const dot = make('circle', sevRoot, {cx: cx, cy: yBottom(v), r: 6, fill: '#333'});
    
    
  });
  const my = yBottom(boxMean[i]);
  const half = 21.7;
  const diamond = make('polygon', sevRoot, {points: cx + ',' + (my - half) + ' ' + (cx + half) + ',' + my + ' ' + cx + ',' + (my + half) + ' ' + (cx - half) + ',' + my, fill: '#f8766d'});
  
  
});
</script>
</body>
</html>
